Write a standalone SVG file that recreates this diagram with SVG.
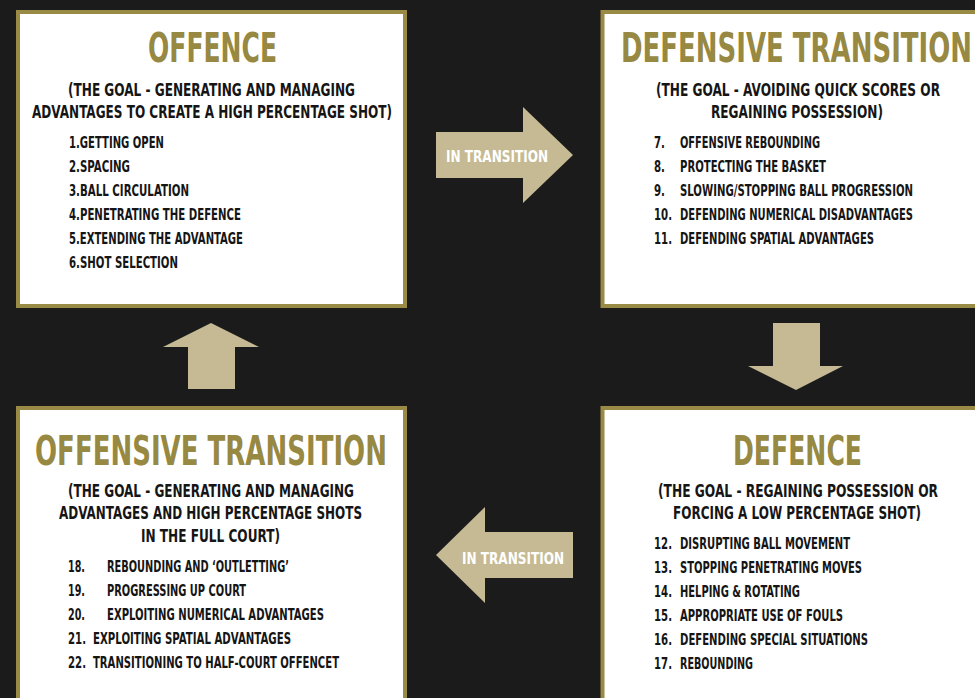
<svg xmlns="http://www.w3.org/2000/svg" width="975" height="698" viewBox="0 0 975 698">
<style>
text{font-family:"Liberation Sans Narrow","DejaVu Sans Condensed","DejaVu Sans",sans-serif;font-stretch:condensed;font-weight:bold}
.box{fill:#ffffff;stroke:#998a45;stroke-width:4}
.title{font-size:40px;fill:#978842}
.sub{font-size:17.5px;fill:#151515}
.item{font-size:16.5px;fill:#151515}
.arrow{fill:#c5ba93}
.alabel{font-size:16px;fill:#ffffff}
</style>
<rect x="0" y="0" width="975" height="698" fill="#1b1b1b"/>

<g id="offence">
<rect class="box" x="18" y="12" width="387" height="294"/>
<text class="title" x="148" y="62" textLength="129" lengthAdjust="spacingAndGlyphs">OFFENCE</text>
<text class="sub" x="68" y="96" textLength="287" lengthAdjust="spacingAndGlyphs">(THE GOAL - GENERATING AND MANAGING</text>
<text class="sub" x="32" y="118" textLength="360" lengthAdjust="spacingAndGlyphs">ADVANTAGES TO CREATE A HIGH PERCENTAGE SHOT)</text>
<text class="item" x="69" y="148" textLength="95" lengthAdjust="spacingAndGlyphs">1.GETTING OPEN</text>
<text class="item" x="69" y="172" textLength="61" lengthAdjust="spacingAndGlyphs">2.SPACING</text>
<text class="item" x="69" y="196" textLength="120" lengthAdjust="spacingAndGlyphs">3.BALL CIRCULATION</text>
<text class="item" x="69" y="220" textLength="172" lengthAdjust="spacingAndGlyphs">4.PENETRATING THE DEFENCE</text>
<text class="item" x="69" y="244" textLength="174" lengthAdjust="spacingAndGlyphs">5.EXTENDING THE ADVANTAGE</text>
<text class="item" x="69" y="268" textLength="109" lengthAdjust="spacingAndGlyphs">6.SHOT SELECTION</text>
</g>

<g id="defensive-transition">
<rect class="box" x="602.5" y="12" width="400" height="294"/>
<text class="title" x="621" y="62" textLength="351" lengthAdjust="spacingAndGlyphs">DEFENSIVE TRANSITION</text>
<text class="sub" x="656" y="96" textLength="284" lengthAdjust="spacingAndGlyphs">(THE GOAL - AVOIDING QUICK SCORES OR</text>
<text class="sub" x="711" y="118" textLength="172" lengthAdjust="spacingAndGlyphs">REGAINING POSSESSION)</text>
<text class="item" x="654" y="148" textLength="11" lengthAdjust="spacingAndGlyphs">7.</text>
<text class="item" x="680" y="148" textLength="140" lengthAdjust="spacingAndGlyphs">OFFENSIVE REBOUNDING</text>
<text class="item" x="654" y="172" textLength="11" lengthAdjust="spacingAndGlyphs">8.</text>
<text class="item" x="680" y="172" textLength="146" lengthAdjust="spacingAndGlyphs">PROTECTING THE BASKET</text>
<text class="item" x="654" y="196" textLength="11" lengthAdjust="spacingAndGlyphs">9.</text>
<text class="item" x="680" y="196" textLength="233" lengthAdjust="spacingAndGlyphs">SLOWING/STOPPING BALL PROGRESSION</text>
<text class="item" x="654" y="220" textLength="18" lengthAdjust="spacingAndGlyphs">10.</text>
<text class="item" x="680" y="220" textLength="233" lengthAdjust="spacingAndGlyphs">DEFENDING NUMERICAL DISADVANTAGES</text>
<text class="item" x="654" y="244" textLength="18" lengthAdjust="spacingAndGlyphs">11.</text>
<text class="item" x="680" y="244" textLength="194" lengthAdjust="spacingAndGlyphs">DEFENDING SPATIAL ADVANTAGES</text>
</g>

<g id="defence">
<rect class="box" x="602.5" y="408" width="400" height="320"/>
<text class="title" x="733" y="465" textLength="129" lengthAdjust="spacingAndGlyphs">DEFENCE</text>
<text class="sub" x="658" y="497" textLength="280" lengthAdjust="spacingAndGlyphs">(THE GOAL - REGAINING POSSESSION OR</text>
<text class="sub" x="673" y="519" textLength="248" lengthAdjust="spacingAndGlyphs">FORCING A LOW PERCENTAGE SHOT)</text>
<text class="item" x="654" y="548.5" textLength="18" lengthAdjust="spacingAndGlyphs">12.</text>
<text class="item" x="680" y="548.5" textLength="170" lengthAdjust="spacingAndGlyphs">DISRUPTING BALL MOVEMENT</text>
<text class="item" x="654" y="572.5" textLength="18" lengthAdjust="spacingAndGlyphs">13.</text>
<text class="item" x="680" y="572.5" textLength="182" lengthAdjust="spacingAndGlyphs">STOPPING PENETRATING MOVES</text>
<text class="item" x="654" y="596.5" textLength="18" lengthAdjust="spacingAndGlyphs">14.</text>
<text class="item" x="680" y="596.5" textLength="120" lengthAdjust="spacingAndGlyphs">HELPING &amp; ROTATING</text>
<text class="item" x="654" y="620.5" textLength="18" lengthAdjust="spacingAndGlyphs">15.</text>
<text class="item" x="680" y="620.5" textLength="163" lengthAdjust="spacingAndGlyphs">APPROPRIATE USE OF FOULS</text>
<text class="item" x="654" y="644.5" textLength="18" lengthAdjust="spacingAndGlyphs">16.</text>
<text class="item" x="680" y="644.5" textLength="188" lengthAdjust="spacingAndGlyphs">DEFENDING SPECIAL SITUATIONS</text>
<text class="item" x="654" y="668.5" textLength="18" lengthAdjust="spacingAndGlyphs">17.</text>
<text class="item" x="680" y="668.5" textLength="73" lengthAdjust="spacingAndGlyphs">REBOUNDING</text>
</g>

<g id="offensive-transition">
<rect class="box" x="18" y="408" width="387" height="320"/>
<text class="title" x="35" y="465" textLength="352" lengthAdjust="spacingAndGlyphs">OFFENSIVE TRANSITION</text>
<text class="sub" x="68" y="497" textLength="286" lengthAdjust="spacingAndGlyphs">(THE GOAL - GENERATING AND MANAGING</text>
<text class="sub" x="59" y="519" textLength="303" lengthAdjust="spacingAndGlyphs">ADVANTAGES AND HIGH PERCENTAGE SHOTS</text>
<text class="sub" x="141" y="541.5" textLength="139" lengthAdjust="spacingAndGlyphs">IN THE FULL COURT)</text>
<text class="item" x="68" y="571.5" textLength="17" lengthAdjust="spacingAndGlyphs">18.</text>
<text class="item" x="107" y="571.5" textLength="182" lengthAdjust="spacingAndGlyphs">REBOUNDING AND ‘OUTLETTING’</text>
<text class="item" x="68" y="595.5" textLength="17" lengthAdjust="spacingAndGlyphs">19.</text>
<text class="item" x="107" y="595.5" textLength="139" lengthAdjust="spacingAndGlyphs">PROGRESSING UP COURT</text>
<text class="item" x="68" y="619.5" textLength="17" lengthAdjust="spacingAndGlyphs">20.</text>
<text class="item" x="107" y="619.5" textLength="217" lengthAdjust="spacingAndGlyphs">EXPLOITING NUMERICAL ADVANTAGES</text>
<text class="item" x="68" y="643.5" textLength="18" lengthAdjust="spacingAndGlyphs">21.</text>
<text class="item" x="93" y="643.5" textLength="198" lengthAdjust="spacingAndGlyphs">EXPLOITING SPATIAL ADVANTAGES</text>
<text class="item" x="68" y="667.5" textLength="18" lengthAdjust="spacingAndGlyphs">22.</text>
<text class="item" x="93" y="667.5" textLength="246" lengthAdjust="spacingAndGlyphs">TRANSITIONING TO HALF-COURT OFFENCET</text>
</g>

<g id="connectors">
<g id="arrow-right">
<polygon class="arrow" points="436,132 523,132 523,107 573,155 523,203 523,178 436,178"/>
<text class="alabel" x="446" y="161.5" textLength="102" lengthAdjust="spacingAndGlyphs">IN TRANSITION</text>
</g>
<polygon id="arrow-down" class="arrow" points="773,323 820,323 820,366 843,366 796,390 748,366 773,366"/>
<g id="arrow-left">
<polygon class="arrow" points="573,532 485,532 485,507 436,555 485,603 485,578 573,578"/>
<text class="alabel" x="462" y="563.5" textLength="102" lengthAdjust="spacingAndGlyphs">IN TRANSITION</text>
</g>
<polygon id="arrow-up" class="arrow" points="188,389 235,389 235,347 259,347 211,323 163,347 188,347"/>
</g>
</svg>
